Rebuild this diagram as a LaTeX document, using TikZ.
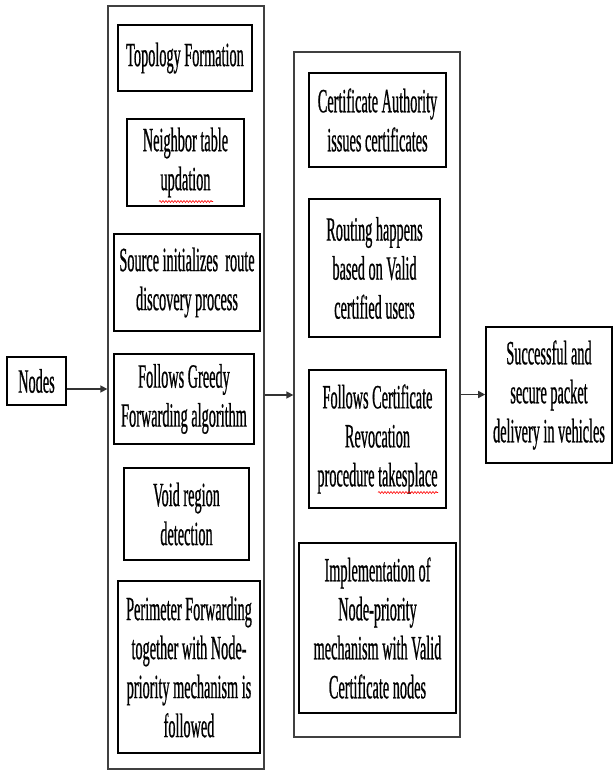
\documentclass[tikz,border=0pt]{standalone}
\usepackage{fontspec}
\setmainfont[FakeStretch=0.42,FakeBold=0.6]{Liberation Serif}
\usetikzlibrary{arrows.meta,decorations.pathmorphing}
\begin{document}
\begin{tikzpicture}[x=1pt,y=-1pt,
  container/.style={draw=black!75,line width=1.3pt,inner sep=0pt},
  box/.style={draw=black,line width=1.6pt,inner sep=0pt,align=center,
    font=\fontsize{34}{39}\selectfont},
  arr/.style={draw=black!80,line width=1.5pt,-{Triangle[length=7pt,width=7pt]}},
  spell/.style={draw=red,line width=0.6pt,decorate,
    decoration={snake,amplitude=1pt,segment length=3pt}}]
\useasboundingbox (0,0) rectangle (613,771);
% containers
\node[container,minimum width=156pt,minimum height=763pt] (L) at (186,387.5) {};
\node[container,minimum width=166pt,minimum height=685pt] (M) at (377,394.5) {};
% left column
\node[box,minimum width=134pt,minimum height=66pt] (topo) at (185,58) {Topology Formation};
\node[box,minimum width=117pt,minimum height=87pt] (neigh) at (185.5,162.5) {Neighbor table\\updation};
\node[box,minimum width=146pt,minimum height=97pt] (src) at (187,282.5) {Source initializes\ \ route\\discovery process};
\node[box,minimum width=140pt,minimum height=90pt] (greedy) at (184,399) {Follows Greedy\\Forwarding algorithm};
\node[box,minimum width=125pt,minimum height=92pt] (void) at (186.5,514) {Void region\\detection};
\node[box,minimum width=142pt,minimum height=172pt] (perim) at (189,667) {Perimeter Forwarding\\together with Node-\\priority mechanism is\\followed};
% input
\node[box,minimum width=59pt,minimum height=48pt] (nodes) at (36.5,381) {Nodes};
% middle column
\node[box,minimum width=137pt,minimum height=94pt] (ca) at (377.5,120) {Certificate Authority\\issues certificates};
\node[box,minimum width=131pt,minimum height=138pt] (route) at (374.5,268) {Routing happens\\based on Valid\\certified users};
\node[box,minimum width=137pt,minimum height=138pt] (revoc) at (377.5,439) {Follows Certificate\\Revocation\\procedure takesplace};
\node[box,minimum width=157pt,minimum height=170pt] (impl) at (377.5,628) {Implementation of\\Node-priority\\mechanism with Valid\\Certificate nodes};
% output
\node[box,minimum width=126pt,minimum height=136pt] (final) at (549,395) {Successful and\\secure packet\\delivery in vehicles};
% arrows
\draw[arr] ([yshift=-8pt]nodes.east) -- ([yshift=-8pt]nodes.east -| L.west);
\draw[arr] ([yshift=-7.5pt]L.east) -- ([yshift=-7.5pt]L.east -| M.west);
\draw[arr] (M.east) -- (M.east -| final.west);
% spell-check marks
\draw[spell] (159,201.5) -- (213,201.5);
\draw[spell] (378,492.5) -- (438,492.5);
\end{tikzpicture}
\end{document}
